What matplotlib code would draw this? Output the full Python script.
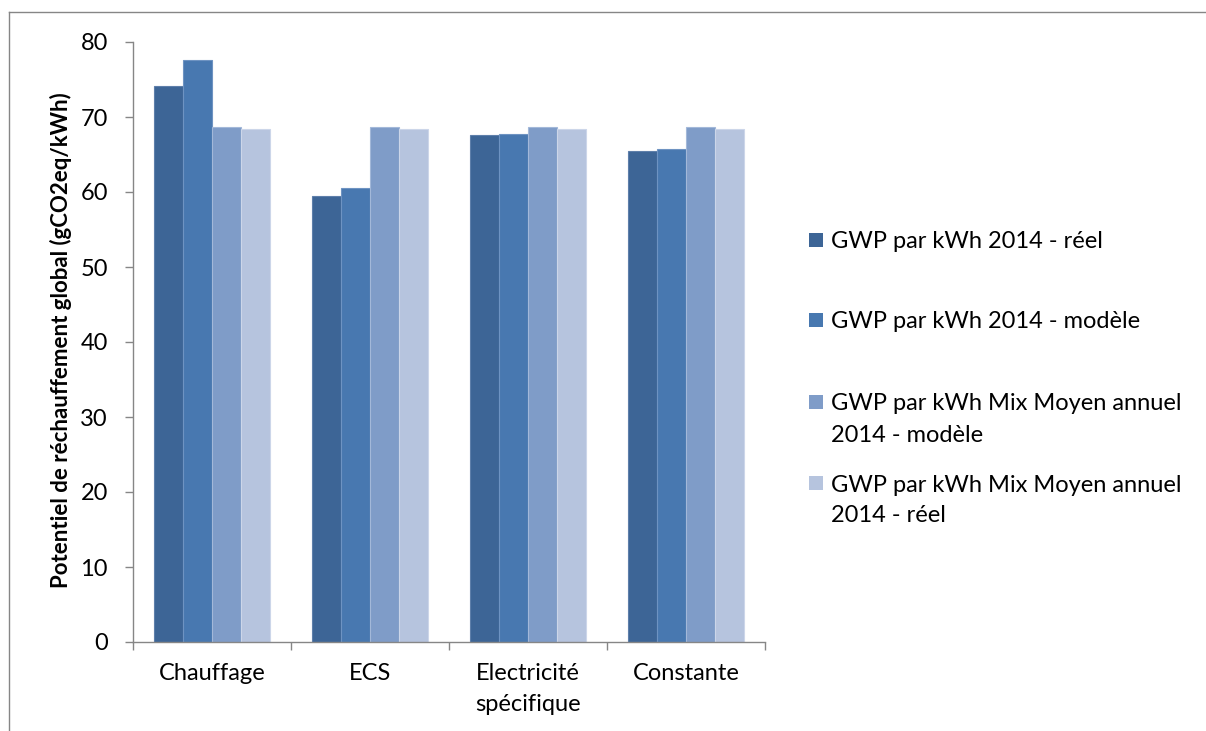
import matplotlib
matplotlib.use("Agg")
import matplotlib.pyplot as plt
from matplotlib.patches import Rectangle
from matplotlib.lines import Line2D
import numpy as np

categories = ["Chauffage", "ECS", "Electricité\nspécifique", "Constante"]
series_labels = [
    "GWP par kWh 2014 - réel",
    "GWP par kWh 2014 - modèle",
    "GWP par kWh Mix Moyen annuel\n2014 - modèle",
    "GWP par kWh Mix Moyen annuel\n2014 - réel",
]
reel_2014 = [74.1, 59.5, 67.6, 65.4]
modele_2014 = [77.6, 60.5, 67.8, 65.8]
mix_modele = [68.7, 68.7, 68.7, 68.7]
mix_reel = [68.4, 68.4, 68.4, 68.4]
series = [reel_2014, modele_2014, mix_modele, mix_reel]
colors = ["#3D6596", "#4878B0", "#7F9CC8", "#B6C4DE"]
edges = ["#5E7FAA", "#6E93C2", "#A3B8D9", "#CCD6E9"]
yticks = [0, 10, 20, 30, 40, 50, 60, 70, 80]
ylabel = "Potentiel de réchauffement global (gCO2eq/kWh)"

FONT = ["Lato", "DejaVu Sans"]
plt.rcParams['font.family'] = FONT
FS = 17

W, H = 1206, 731
fig = plt.figure(figsize=(W / 100, H / 100), dpi=100)
ax = fig.add_axes([133 / W, 1 - 642 / H, (765 - 133) / W, (642 - 42) / H])

x = np.arange(len(categories))
bw = 0.182
for i, (vals, c, e) in enumerate(zip(series, colors, edges)):
    ax.bar(x + (i - 1.5) * bw, vals, width=bw, color=c, edgecolor=e, linewidth=0.8)

ax.set_xlim(-0.5, len(categories) - 0.5)
ax.set_ylim(0, 80)
ax.set_yticks(yticks)
ax.set_yticklabels([str(t) for t in yticks], fontsize=FS, color="#000000")
ax.set_xticks(x)
ax.set_xticklabels(categories, fontsize=FS, color="#000000", linespacing=1.62)
ax.tick_params(axis='x', length=0, pad=15)
ax.set_xticks(np.arange(len(categories) + 1) - 0.5, minor=True)
ax.tick_params(axis='x', which='minor', length=6, color="#868686", width=1)
ax.tick_params(axis='y', length=6, color="#868686", width=1, pad=12)

for s in ["top", "right"]:
    ax.spines[s].set_visible(False)
for s in ["left", "bottom"]:
    ax.spines[s].set_color("#868686")
    ax.spines[s].set_linewidth(1)

ax.set_ylabel(ylabel, fontsize=16, fontweight="bold")
ax.yaxis.set_label_coords((61 - 133) / (765 - 133), (642 - 340) / (642 - 42))
ax.yaxis.label.set_va("center")

# legend
first_line_y = [240, 320, 402, 483]
for lab, c, yc in zip(series_labels, colors, first_line_y):
    fig.add_artist(Rectangle((809 / W, 1 - (yc + 7) / H), 14 / W, 14 / H,
                             transform=fig.transFigure, facecolor=c, edgecolor="none"))
    for k, line in enumerate(lab.split("\n")):
        ylc = yc + k * 31
        fig.text(831 / W, 1 - (ylc + 8.5) / H, line, fontsize=FS, va="baseline",
                 ha="left", color="#000000")

# chart area border
fig.add_artist(Line2D([9 / W, 9 / W], [0, 1 - 12 / H], transform=fig.transFigure,
                      color="#868686", linewidth=1))
fig.add_artist(Line2D([9 / W, 1], [1 - 12 / H, 1 - 12 / H], transform=fig.transFigure,
                      color="#868686", linewidth=1))

fig.savefig("out.png", dpi=100)
